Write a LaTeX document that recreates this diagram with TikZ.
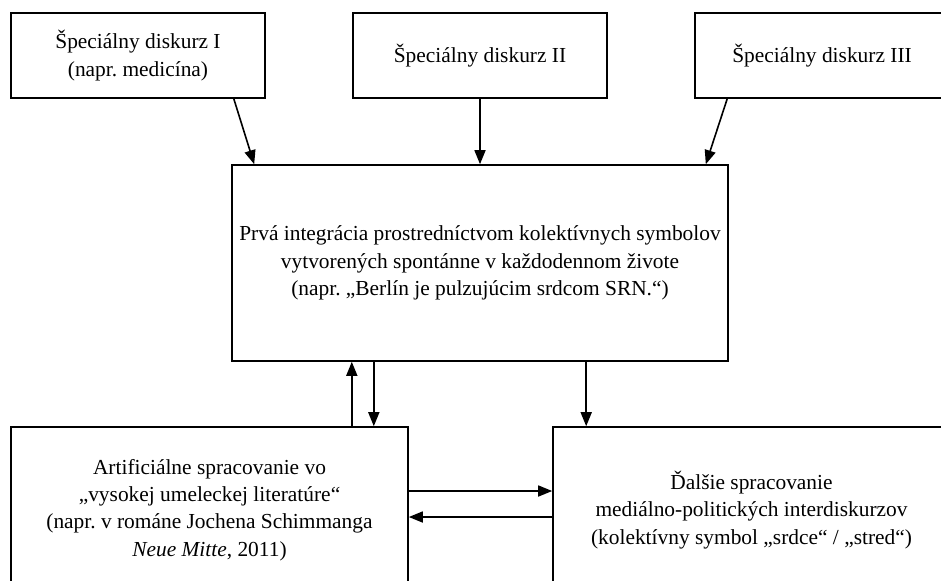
\documentclass[tikz,border=0pt]{standalone}
\usepackage{fontspec}
\setmainfont{Liberation Serif}
\frenchspacing
\usetikzlibrary{arrows.meta}
\begin{document}
\begin{tikzpicture}[x=0.5pt,y=-0.5pt,line width=0.8pt,line join=miter,
  box/.style={draw,rectangle,align=center,inner sep=0pt,font=\fontsize{10.7}{13.6}\selectfont},
  arr/.style={-{Triangle[length=7pt,width=5.5pt]}}]
\useasboundingbox (0,0) rectangle (941,580);
\clip (0,0) rectangle (941,580);
% top row
\node[box,minimum width=127pt,minimum height=42.5pt] (disI) at (138,55.5) {Špeciálny diskurz I\\(napr. medicína)};
\node[box,minimum width=127pt,minimum height=42.5pt] (disII) at (480,55.5) {Špeciálny diskurz II};
\node[box,minimum width=127pt,minimum height=42.5pt] (disIII) at (822,55.5) {Špeciálny diskurz III};
% middle
\node[box,minimum width=248pt,minimum height=98pt] (integ) at (480,263) {Prvá integrácia prostredníctvom kolektívnych symbolov\\vytvorených spontánne v každodennom živote\\(napr. „Berlín je pulzujúcim srdcom SRN.“)};
% bottom row
\node[box,minimum width=198.5pt,minimum height=83pt] (lit) at (209.5,510) {Artificiálne spracovanie vo\\„vysokej umeleckej literatúre“\\(napr. v románe Jochena Schimmanga\\\textit{Neue Mitte}, 2011)};
\node[box,minimum width=198.5pt,minimum height=83pt] (media) at (751.5,510) {Ďalšie spracovanie\\mediálno-politických interdiskurzov\\(kolektívny symbol „srdce“ / „stred“)};
% arrows
\draw[arr] ([xshift=-16pt]disI.south east) -- ([xshift=11.5pt]integ.north west);
\draw[arr] (disII.south) -- (integ.north);
\draw[arr] ([xshift=16.5pt]disIII.south west) -- ([xshift=-11.5pt]integ.north east);
\draw[arr] ([xshift=-28.5pt]lit.north east) -- ([xshift=-28.5pt]lit.north east |- integ.south);
\draw[arr] ([xshift=-17.5pt]lit.north east |- integ.south) -- ([xshift=-17.5pt]lit.north east);
\draw[arr] ([xshift=17pt]media.north west |- integ.south) -- ([xshift=17pt]media.north west);
\draw[arr] ([yshift=9.5pt]lit.east) -- ([yshift=9.5pt]media.west);
\draw[arr] ([yshift=-3.5pt]media.west) -- ([yshift=-3.5pt]lit.east);
\end{tikzpicture}
\end{document}
